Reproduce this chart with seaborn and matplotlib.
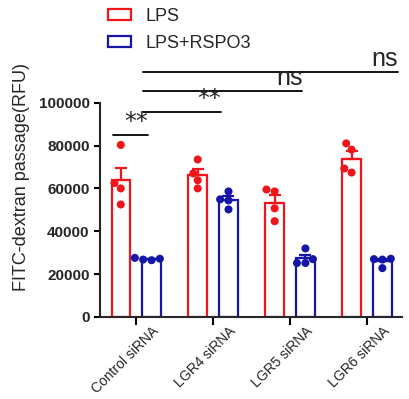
import numpy as np
import pandas as pd
import matplotlib
matplotlib.use("Agg")
import matplotlib.pyplot as plt
import matplotlib.transforms as mtransforms
from matplotlib.patches import Patch
import seaborn as sns

# ── Data ─────────────────────────────────────────────────────────────────────
groups = ["Control siRNA", "LGR4 siRNA", "LGR5 siRNA", "LGR6 siRNA"]
treatments = ["LPS", "LPS+RSPO3"]

lps_vals = [
    [80300, 62500, 60000, 52500],
    [73500, 60000, 67000, 63800],
    [58600, 59500, 50700, 44700],
    [81000, 78100, 67400, 69300],
]
rspo3_vals = [
    [26500, 26800, 27200, 27600],
    [58600, 50200, 54900, 54400],
    [32000, 27000, 25200, 25200],
    [27000, 22800, 26800, 27200],
]

y_ticks = [0, 20000, 40000, 60000, 80000, 100000]

# significance brackets: (x start, x end, y, label)
brackets = [
    (-0.30, 0.16, 85000, "**"),
    (0.09, 1.10, 95800, "**"),
    (0.09, 2.16, 105600, "ns"),
    (0.09, 3.40, 114500, "ns"),
]

colors = {"LPS": "#f0151b", "LPS+RSPO3": "#1515a8"}

rows = []
for g, lv, rv in zip(groups, lps_vals, rspo3_vals):
    for v in lv:
        rows.append({"group": g, "treatment": "LPS", "value": v})
    for v in rv:
        rows.append({"group": g, "treatment": "LPS+RSPO3", "value": v})
df = pd.DataFrame(rows)

# ── Style ────────────────────────────────────────────────────────────────────
sns.set_style("ticks")
plt.rcParams["font.family"] = ["Liberation Sans", "DejaVu Sans"]

fig = plt.figure(figsize=(4.09, 3.99), dpi=100)
ax = fig.add_axes([100 / 409, 82 / 399, 302 / 409, 214.3 / 399])

sns.barplot(data=df, x="group", y="value", hue="treatment", order=groups,
            hue_order=treatments, palette=colors, fill=False, errorbar=None,
            width=0.8, gap=0.4, linewidth=1.6, legend=False, ax=ax)

# mean + SEM (upward only, GraphPad style)
offsets = np.linspace(-0.2, 0.2, len(treatments))
stats = df.groupby(["group", "treatment"])["value"].agg(["mean", "sem"])
for ti, t in enumerate(treatments):
    for gi, g in enumerate(groups):
        m, s = stats.loc[(g, t)]
        ax.errorbar(gi + offsets[ti], m, yerr=[[0], [s]], color=colors[t],
                    lw=1.6, capsize=4.5, capthick=1.6, zorder=3)

sns.swarmplot(data=df, x="group", y="value", hue="treatment", order=groups,
              hue_order=treatments, palette=colors, dodge=True, size=5.8,
              legend=False, ax=ax, zorder=4)

sns.despine(ax=ax)
for sp in ["left", "bottom"]:
    ax.spines[sp].set_linewidth(1.5)
ax.tick_params(axis="both", width=1.5, length=4, color="black")
ax.tick_params(axis="x", length=5.5, pad=1)

ax.set_xlim(-0.47, 3.455)
ax.set_ylim(0, 100000)
ax.set_yticks(y_ticks)
ax.set_yticklabels([str(v) for v in y_ticks], fontweight="bold", fontsize=11)
ax.set_xlabel("")
ax.set_ylabel("FITC-dextran passage(RFU)", fontsize=13)
ax.yaxis.set_label_coords(-0.232, 0.655)

ax.set_xticks(range(len(groups)))
ax.set_xticklabels(groups, rotation=45, ha="right", va="top",
                   rotation_mode="anchor", fontsize=10)
shift = mtransforms.ScaledTranslation(15 / 100, 2 / 100, fig.dpi_scale_trans)
for lab in ax.get_xticklabels():
    lab.set_transform(lab.get_transform() + shift)

for x0, x1, y, txt in brackets:
    ax.plot([x0, x1], [y, y], color="black", lw=1.3, clip_on=False)
    if txt == "**":
        ax.text(x1, y + 300, txt, ha="right", va="bottom", fontsize=17,
                family="DejaVu Sans", clip_on=False)
    else:
        ax.text(x1, y + 300, txt, ha="right", va="bottom", fontsize=18,
                clip_on=False)

handles = [Patch(facecolor="none", edgecolor=colors[t], linewidth=1.6)
           for t in treatments]
fig.legend(handles, treatments, loc="upper left",
           bbox_to_anchor=(108 / 409, 1 - 8 / 399), frameon=False,
           fontsize=13, handlelength=1.3, handleheight=0.55,
           labelspacing=0.55, handletextpad=0.75, borderpad=0,
           borderaxespad=0)

fig.savefig("out.png", dpi=100)
